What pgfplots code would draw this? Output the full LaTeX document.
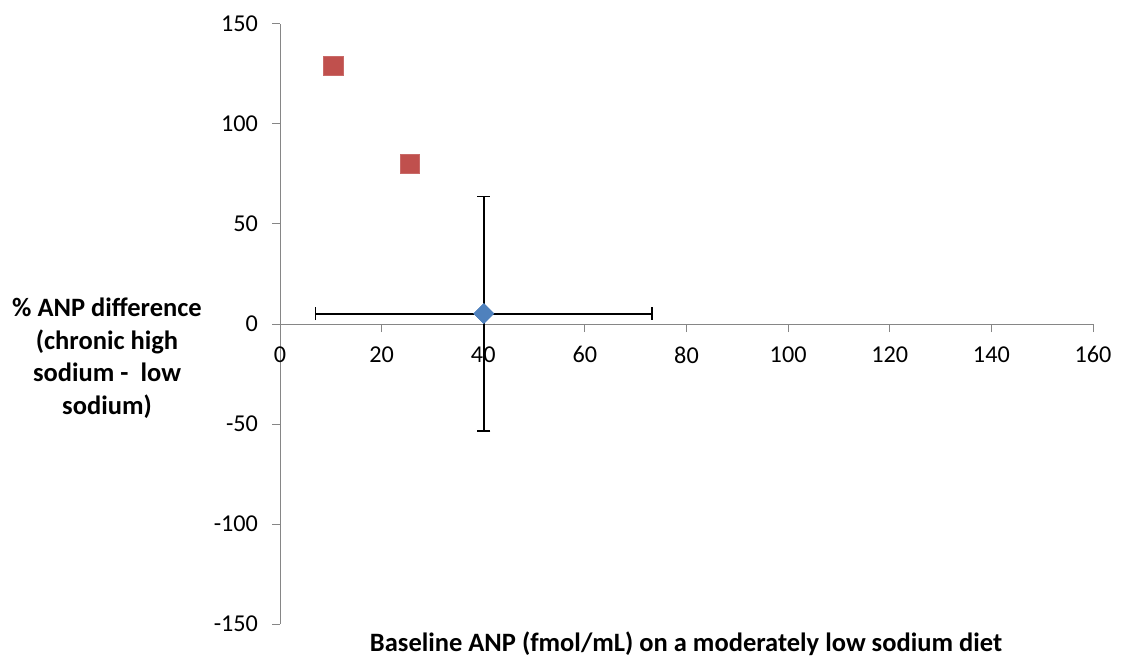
\documentclass[border=0pt]{standalone}
\usepackage{pgfplots}
\pgfplotsset{compat=1.18}
\usepackage{fontspec}
\setmainfont{Carlito}
\definecolor{axgray}{HTML}{868686}
\definecolor{exred}{HTML}{C0504D}
\definecolor{exblue}{HTML}{4F81BD}
\begin{document}
\begin{tikzpicture}[x=1pt,y=1pt]
\path[use as bounding box] (0,0) rectangle (1125,657);
\begin{axis}[
  at={(280pt,33pt)}, anchor=south west,
  scale only axis, width=813pt, height=600pt,
  xmin=0, xmax=160, ymin=-150, ymax=150,
  axis x line=middle, axis y line=left,
  hide obscured x ticks=false, hide obscured y ticks=false,
  axis line style={draw=axgray, line width=1pt, -},
  xtick={0,20,...,160}, ytick={-150,-100,...,150},
  xticklabels={0,20,40,60,80,100,120,140,160},
  yticklabels={-150,-100,-50,0,50,100,150},
  tick align=outside, major tick length=8pt,
  tick style={draw=axgray, line width=1pt},
  ticklabel style={font=\fontsize{24.2}{29}\selectfont, text=black},
  xticklabel style={yshift=-11pt},
  yticklabel style={xshift=-10.5pt},
  clip=false,
]
\addplot[only marks, mark=square*, mark size=7.07pt,
  mark options={rotate=45, fill=exblue, draw=exblue, line width=0.5pt},
  forget plot,
  error bars/.cd, x dir=both, x explicit, y dir=both, y explicit,
  error bar style={draw=black, line width=1.8pt},
  error mark options={rotate=90, draw=black, line width=1.8pt, mark size=6.5pt}]
  coordinates {(40.1,5.2) +- (33.1,58.5)};
\addplot[only marks, mark=square*, mark size=7.07pt,
  mark options={rotate=45, fill=exblue, draw=exblue, line width=0.5pt}]
  coordinates {(40.1,5.2)};
\addplot[only marks, mark=square*, mark size=9.6pt,
  mark options={fill=exred, draw=exred!85!white, line width=0.8pt}]
  coordinates {(10.5,129.2) (25.5,79.9)};
\end{axis}
\node[anchor=base, font=\bfseries\fontsize{26.5}{32}\selectfont] at (686,5.3)
  {Baseline ANP (fmol/mL) on a moderately low sodium diet};
\node[anchor=north, align=center, inner sep=0pt,
  font=\bfseries\fontsize{26.5}{32.7}\selectfont] at (107,359.5)
  {\% ANP difference\\(chronic high\\sodium -\ \ low\\sodium)};
\end{tikzpicture}
\end{document}
